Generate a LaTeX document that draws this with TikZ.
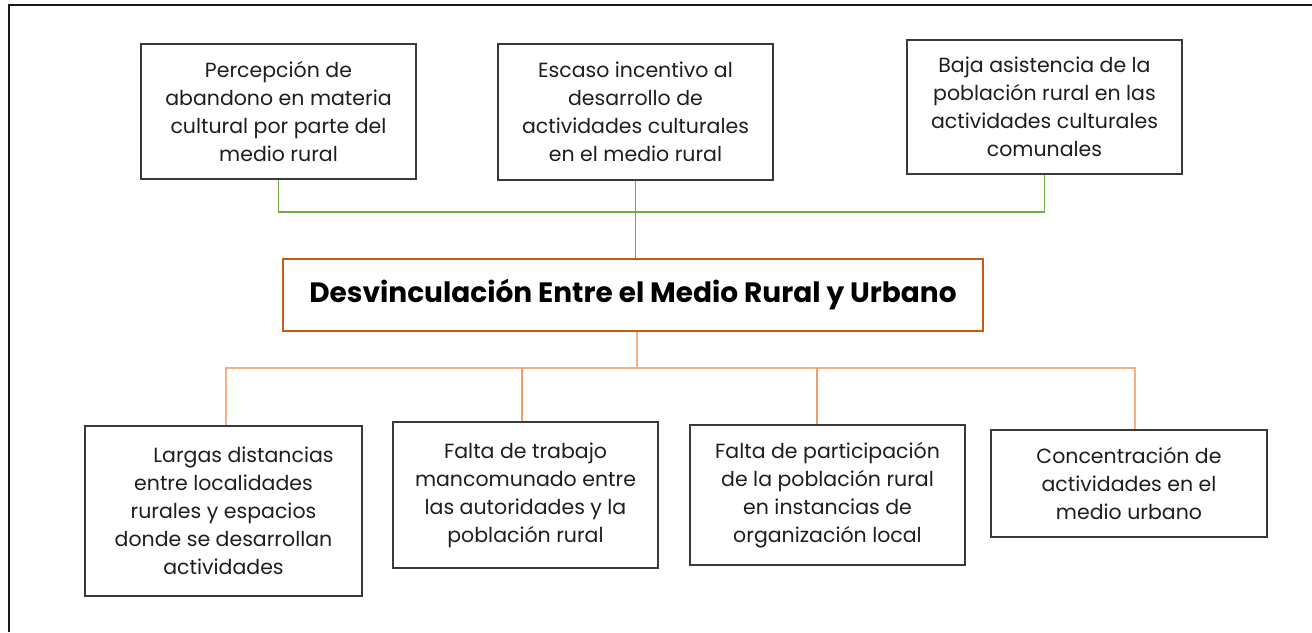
\documentclass[tikz,border=0pt]{standalone}
\usepackage{fontspec}
\setmainfont{Poppins}
\definecolor{boxgray}{HTML}{3A3A3A}
\definecolor{txt}{HTML}{1E1E1E}
\definecolor{gline}{HTML}{70AD47}
\definecolor{oline}{HTML}{F4B183}
\definecolor{oline2}{HTML}{F0A068}
\definecolor{cbord}{HTML}{C55A11}
\begin{document}
\begin{tikzpicture}[x=1pt,y=-1pt,
  box/.style={draw=boxgray, line width=1.3pt, fill=white, align=center, inner sep=0pt,
    font=\fontsize{20.5}{28}\selectfont, text=txt},
  cbox/.style={draw=cbord, line width=2.5pt, fill=white, align=center, inner sep=0pt,
    font=\fontsize{28}{32}\selectfont\bfseries, text=black},
  gconn/.style={draw=gline, line width=1.1pt},
  oconn/.style={draw=oline, line width=1.3pt},
  oconnd/.style={draw=oline2, line width=1.3pt},
  frame/.style={draw=black!90, line width=2.6pt}]
\useasboundingbox (0,0) rectangle (1312,632);
\draw[frame] (9,632) -- (9,5) -- (1312,5);

\node[box, minimum width=275pt, minimum height=135pt] (n1) at (278.5,111.5)
  {Percepción de\\abandono en materia\\cultural por parte del\\medio rural};
\node[box, minimum width=275pt, minimum height=136pt] (n2) at (635.5,112)
  {Escaso incentivo al\\desarrollo de\\actividades culturales\\en el medio rural};
\node[box, minimum width=275pt, minimum height=134pt] (n3) at (1044.5,107)
  {Baja asistencia de la\\población rural en las\\actividades culturales\\comunales};

\node[cbox, minimum width=700pt, minimum height=72pt] (c) at (633,295)
  {\raisebox{3pt}{Desvinculación Entre el Medio Rural y Urbano}};

\node[box, minimum width=277pt, minimum height=170pt] (n4) at (223.5,511)
  {\hspace*{40pt}Largas distancias\\entre localidades\\rurales y espacios\\donde se desarrollan\\actividades};
\node[box, minimum width=265pt, minimum height=146pt] (n5) at (525.5,495)
  {Falta de trabajo\\mancomunado entre\\las autoridades y la\\población rural};
\node[box, minimum width=275pt, minimum height=140pt] (n6) at (827.5,495)
  {Falta de participación\\de la población rural\\en instancias de\\organización local};
\node[box, minimum width=276pt, minimum height=107pt] (n7) at (1129,483.5)
  {Concentración de\\actividades en el\\medio urbano};

\coordinate (jt) at (635.5,212);
\coordinate (jb) at (637,368);

\draw[gconn] (n1.south) |- (jt) -| (n3.south);
\draw[gconn] (n2.south) -- (n2.south |- c.north);

\draw[oconn] (c.south -| jb) -- (jb);
\draw[oconn] ([xshift=2.5pt]n4.north) |- (jb) -| ([xshift=6pt]n7.north);
\draw[oconnd] ([xshift=-3.5pt]n5.north) -- ([xshift=-3.5pt]n5.north |- jb);
\draw[oconnd] ([xshift=-10.5pt]n6.north) -- ([xshift=-10.5pt]n6.north |- jb);
\end{tikzpicture}
\end{document}
